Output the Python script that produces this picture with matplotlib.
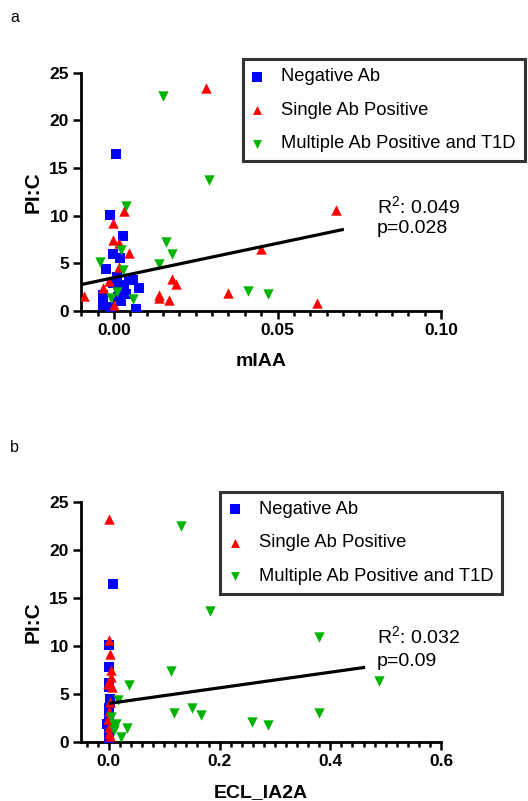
import numpy as np
import matplotlib
matplotlib.use("Agg")
import matplotlib.pyplot as plt
from matplotlib.ticker import MultipleLocator

plt.rcParams.update({
    "font.family": ["Liberation Sans", "DejaVu Sans"],
    "mathtext.default": "regular",
})

# ---------------- panel a: mIAA vs PI:C ----------------
a_neg_x = [0.0006, -0.0012, 0.0027, -0.0004, 0.0018, -0.0025, 0.0057, 0.0076, 0.0068,
           -0.0035, -0.0035, -0.0012, 0.0011, 0.0014, 0.0037, 0.0022, -0.0004, 0.0030,
           0.0008, 0.0045]
a_neg_y = [16.5, 10.1, 7.9, 6.0, 5.6, 4.45, 3.25, 2.38, 0.2,
           1.7, 0.65, 0.45, 1.5, 2.55, 1.78, 1.0, 2.9, 2.7,
           3.6, 3.4]
a_single_x = [0.028, 0.068, 0.0029, -0.0004, -0.0004, 0.0016, 0.0047, 0.045, 0.0016,
              0.0178, 0.0189, 0.035, 0.0139, 0.0139, 0.0167, 0.062, -0.0091, -0.0035,
              -0.0014, 0.0000]
a_single_y = [23.4, 10.6, 10.5, 9.2, 7.45, 7.1, 6.1, 6.5, 4.65,
              3.4, 2.8, 1.85, 1.7, 1.4, 1.2, 0.8, 1.55, 2.4,
              3.2, 0.6]
a_multi_x = [0.0150, 0.029, 0.0037, 0.0158, 0.0178, 0.0137, -0.0043, 0.041, 0.047,
             0.0020, 0.0057, -0.0010, 0.0027, 0.0010]
a_multi_y = [22.6, 13.7, 11.05, 7.2, 6.0, 4.9, 5.1, 2.1, 1.75,
             6.4, 1.3, 1.4, 4.3, 2.0]
a_fit_x = [-0.01, 0.0703]
a_fit_y = [2.78, 8.57]

# ---------------- panel b: ECL_IA2A vs PI:C ----------------
b_neg_x = [0.008, 0.001, 0.001, 0.0, 0.0, 0.002, 0.001, 0.0, 0.001, -0.004,
           0.0, 0.0, 0.0, 0.0, 0.002, 0.001, 0.0]
b_neg_y = [16.5, 10.1, 7.8, 6.1, 5.7, 4.5, 3.5, 3.0, 2.5, 1.9,
           1.5, 1.0, 0.5, 0.2, 4.0, 2.2, 3.2]
b_single_x = [0.0, 0.001, 0.002, 0.004, 0.003, 0.001, -0.002, 0.005, 0.002, 0.0,
              0.001, -0.001, 0.0, 0.002]
b_single_y = [23.3, 10.6, 9.2, 7.5, 6.8, 6.3, 6.0, 5.7, 4.1, 0.9,
              3.2, 2.4, 1.5, 0.6]
b_multi_x = [0.130, 0.182, 0.380, 0.113, 0.488, 0.036, 0.150, 0.117, 0.167, 0.259,
             0.287, 0.380, 0.032, 0.021, 0.016, 0.010, 0.012, 0.009, 0.003]
b_multi_y = [22.56, 13.65, 10.97, 7.38, 6.37, 5.92, 3.55, 2.96, 2.79, 2.02,
             1.74, 2.96, 1.39, 0.52, 4.4, 1.74, 1.9, 1.2, 2.6]
b_fit_x = [0.0, 0.463]
b_fit_y = [4.0, 7.77]

group_names = ["Negative Ab", "Single Ab Positive", "Multiple Ab Positive and T1D"]
group_colors = ["#0000FF", "#FF0000", "#00B300"]
group_markers = ["s", "^", "v"]


def draw_panel(ax, groups, fit_x, fit_y, stats, xlabel, xlim, major, minor, fmt,
               leg_anchor):
    for (gx, gy), name, col, mk in zip(groups, group_names, group_colors, group_markers):
        ax.scatter(gx, gy, s=62 if mk == "s" else 56, marker=mk, color=col,
                   linewidths=0, label=name, zorder=3)
    ax.plot(fit_x, fit_y, color="black", lw=2.3, zorder=4, solid_capstyle="butt")

    ax.set_xlim(*xlim)
    ax.set_ylim(0, 25)
    ax.xaxis.set_major_locator(MultipleLocator(major))
    ax.xaxis.set_minor_locator(MultipleLocator(minor))
    ax.yaxis.set_major_locator(MultipleLocator(5))
    ax.xaxis.set_major_formatter(fmt)

    for s in ("top", "right"):
        ax.spines[s].set_visible(False)
    for s in ("left", "bottom"):
        ax.spines[s].set_linewidth(2.0)
    ax.tick_params(which="major", direction="out", length=6, width=1.8,
                   labelsize=12.5, pad=2.5)
    ax.tick_params(which="minor", direction="out", length=3.5, width=1.8)
    for lab in ax.get_xticklabels() + ax.get_yticklabels():
        lab.set_fontweight("bold")

    ax.set_ylabel("PI:C", fontsize=15, fontweight="bold", labelpad=5)
    ax.set_xlabel(xlabel, fontsize=14, fontweight="bold", labelpad=11)

    ax.text(0.8215, stats[0][1], stats[0][0], transform=ax.transAxes,
            fontsize=14, va="baseline", ha="left")
    ax.text(0.8215, stats[1][1], stats[1][0], transform=ax.transAxes,
            fontsize=14, va="baseline", ha="left")

    leg = ax.legend(loc="upper left", bbox_to_anchor=leg_anchor, borderaxespad=0,
                    fontsize=13.2, frameon=True, fancybox=False, edgecolor="black",
                    handlelength=0.6, handletextpad=1.0, labelspacing=0.9,
                    borderpad=0.5, markerscale=0.85)
    leg.get_frame().set_linewidth(2.2)
    leg.set_zorder(5)


fig = plt.figure(figsize=(5.28, 8.01), dpi=100)
ax1 = fig.add_axes([0.1528, 0.6117, 0.6824, 0.2975])
ax2 = fig.add_axes([0.1528, 0.0740, 0.6824, 0.2989])

draw_panel(ax1,
           [(a_neg_x, a_neg_y), (a_single_x, a_single_y), (a_multi_x, a_multi_y)],
           a_fit_x, a_fit_y,
           [("R$^2$: 0.049", 0.411), ("p=0.028", 0.327)],
           "mIAA", (-0.0102, 0.10), 0.05, 0.005,
           plt.FuncFormatter(lambda v, p: f"{v:.2f}"),
           (0.45, 1.057))
draw_panel(ax2,
           [(b_neg_x, b_neg_y), (b_single_x, b_single_y), (b_multi_x, b_multi_y)],
           b_fit_x, b_fit_y,
           [("R$^2$: 0.032", 0.4135), ("p=0.09", 0.317)],
           "ECL_IA2A", (-0.051, 0.60), 0.2, 0.02,
           plt.FuncFormatter(lambda v, p: f"{v:.1f}"),
           (0.387, 1.044))

fig.text(10 / 528, 1 - 18 / 801, "a", fontsize=11.5, va="center", ha="left")
fig.text(10 / 528, 1 - 448 / 801, "b", fontsize=11.5, va="center", ha="left")

fig.savefig("out.png", dpi=100)
